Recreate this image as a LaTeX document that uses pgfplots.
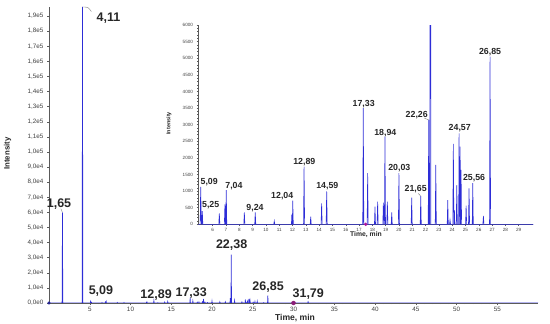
\documentclass[border=0pt]{standalone}
\usepackage{pgfplots}
\pgfplotsset{compat=1.18}
\usepackage{pgfplotstable}
\usepackage{fontspec}
\setmainfont{Liberation Sans}
\definecolor{peak}{RGB}{45,45,215}
\definecolor{dotp}{RGB}{140,30,120}
\definecolor{axgray}{RGB}{90,90,90}

% chromatogram: each peak as base - apex - base
\pgfplotstableread{
t h
0.00 0
1.60 0
1.65 60000
1.70 0
4.06 0
4.11 196000
4.16 0
5.06 0
5.10 1130
5.15 0
5.19 0
5.22 400
5.26 0
6.46 0
6.50 330
6.54 0
6.88 0
6.92 600
6.96 0
6.98 0
7.02 1030
7.06 0
8.34 0
8.38 360
8.42 0
9.16 0
9.20 360
9.24 0
10.59 0
10.63 100
10.67 0
11.92 0
11.95 300
11.98 0
11.99 0
12.02 710
12.06 0
12.83 0
12.87 1740
12.91 0
13.33 0
13.37 230
13.41 0
14.15 0
14.19 630
14.23 0
14.53 0
14.57 990
14.61 0
17.28 0
17.32 3500
17.36 0
17.61 0
17.65 1540
17.69 0
18.16 0
18.20 530
18.24 0
18.36 0
18.40 680
18.44 0
18.79 0
18.83 650
18.87 0
18.91 0
18.95 2640
18.99 0
19.09 0
19.13 680
19.17 0
19.42 0
19.46 360
19.50 0
19.96 0
20.00 1540
20.04 0
20.92 0
20.96 800
21.00 0
21.60 0
21.64 850
21.68 0
22.20 0
22.24 3140
22.28 0
22.32 0
22.36 32000
22.40 0
22.73 0
22.77 1790
22.81 0
23.63 0
23.67 730
23.71 0
23.80 0
23.84 130
23.88 0
24.05 0
24.09 2420
24.13 0
24.14 0
24.17 430
24.20 0
24.31 0
24.35 1180
24.39 0
24.49 0
24.52 2740
24.56 0
24.57 0
24.60 2340
24.63 0
24.64 0
24.67 1640
24.71 0
25.01 0
25.05 560
25.09 0
25.23 0
25.27 1080
25.31 0
25.51 0
25.55 1240
25.59 0
26.31 0
26.35 250
26.39 0
26.81 0
26.85 5050
26.89 0
31.74 0
31.79 900
31.84 0
60.00 0
}\chrom

\begin{document}
\begin{tikzpicture}
\path[use as bounding box] (0,0) rectangle (550bp,324bp);

% ---------------- main axis ----------------
\begin{axis}[
  at={(49bp,21bp)}, anchor=south west, scale only axis,
  width=489bp, height=296bp,
  xmin=0, xmax=60, ymin=0, ymax=196000,
  axis x line*=bottom, axis y line*=left,
  axis line style={axgray, line width=0.5pt},
  xtick={5,10,...,55},
  minor x tick num=4,
  ytick={0,10000,...,190000},
  yticklabels={{0,0e0},{1,0e4},{2,0e4},{3,0e4},{4,0e4},{5,0e4},{6,0e4},{7,0e4},{8,0e4},{9,0e4},{1,0e5},{1,1e5},{1,2e5},{1,3e5},{1,4e5},{1,5e5},{1,6e5},{1,7e5},{1,8e5},{1,9e5}},
  scaled y ticks=false,
  tick align=outside, major tick length=2bp, minor tick length=1bp,
  tick style={axgray, line width=0.4pt},
  /pgf/number format/assume math mode=true,
  tick label style={font=\fontsize{6.3bp}{7bp}\selectfont, text=black!75},
  xticklabel style={yshift=1.5bp},
  clip mode=individual,
]
\addplot[peak, line width=0.6pt] table[x=t, y=h] {\chrom};
\addplot[only marks, mark=*, mark size=1.3bp, peak!70!black] coordinates {(0,0)};
\addplot[only marks, mark=*, mark size=2bp, dotp] coordinates {(30,0)};
\draw[gray, line width=0.4pt] (axis cs:1.65,60000) -- (axis cs:1.45,62500);
\draw[gray, line width=0.4pt] (axis cs:4.11,196000) .. controls (axis cs:4.8,196000) .. (axis cs:5.2,193000);
\begin{scope}[every node/.style={font=\fontsize{12.5bp}{13bp}\selectfont\bfseries, text=black!85, inner sep=0pt}]
\node at (axis cs:1.23,65500) {1,65};
\node at (axis cs:7.3,188500) {4,11};
\node at (axis cs:6.37,7900) {5,09};
\node at (axis cs:13.14,5300) {12,89};
\node at (axis cs:17.45,6600) {17,33};
\node at (axis cs:22.41,38400) {22,38};
\node at (axis cs:26.88,10600) {26,85};
\node at (axis cs:31.81,6000) {31,79};
\end{scope}
\end{axis}

% ---------------- inset axis ----------------
\begin{axis}[
  at={(198.3bp,99.7bp)}, anchor=south west, scale only axis,
  width=335bp, height=199.3bp,
  xmin=4.92, xmax=30.1, ymin=0, ymax=6000,
  axis x line*=bottom, axis y line*=left,
  axis line style={axgray, line width=0.5pt},
  xtick={6,7,...,29},
  ytick={0,500,...,6000},
  minor y tick num=4,
  scaled y ticks=false,
  /pgf/number format/set thousands separator={},
  tick align=outside, major tick length=1.8bp, minor tick length=0.9bp,
  tick style={axgray, line width=0.4pt},
  /pgf/number format/assume math mode=true,
  tick label style={font=\fontsize{4.6bp}{5bp}\selectfont, text=black!75},
  xticklabel style={yshift=1.5bp},
  clip mode=individual,
]
\addplot[peak, line width=0.6pt] table[x=t, y=h] {\chrom};
\addplot[only marks, mark=*, mark size=1.5bp, dotp!70!magenta] coordinates {(17.5,0)};
\draw[gray, line width=0.4pt] (axis cs:21.9,3200) -- (axis cs:22.24,3140);
\draw[gray, line width=0.4pt] (axis cs:21.45,930) -- (axis cs:21.64,850);
\begin{scope}[every node/.style={font=\fontsize{8.8bp}{9bp}\selectfont\bfseries, text=black!85, inner sep=0pt}]
\node at (axis cs:5.74,1283) {5,09};
\node at (axis cs:5.85,581) {5,25};
\node at (axis cs:7.60,1163) {7,04};
\node at (axis cs:9.18,500) {9,24};
\node at (axis cs:11.23,852) {12,04};
\node at (axis cs:12.89,1867) {12,89};
\node at (axis cs:14.62,1163) {14,59};
\node at (axis cs:17.35,3614) {17,33};
\node at (axis cs:18.98,2741) {18,94};
\node at (axis cs:20.03,1687) {20,03};
\node at (axis cs:21.26,1054) {21,65};
\node at (axis cs:21.34,3292) {22,26};
\node at (axis cs:24.57,2892) {24,57};
\node at (axis cs:25.65,1404) {25,56};
\node at (axis cs:26.85,5169) {26,85};
\end{scope}
\end{axis}

% axis titles
\node[font=\fontsize{8.6bp}{9bp}\selectfont\bfseries, text=black!85] at (295bp,6bp) {Time, min};
\node[font=\fontsize{7.8bp}{8bp}\selectfont\bfseries, text=black!85, rotate=90] at (7.5bp,170.5bp) {Intensity};
\node[font=\fontsize{6.8bp}{7bp}\selectfont\bfseries, text=black!85] at (366bp,89bp) {Time, min};
\node[font=\fontsize{5.5bp}{6bp}\selectfont\bfseries, text=black!85, rotate=90] at (169bp,200.7bp) {Intensity};
\end{tikzpicture}
\end{document}
